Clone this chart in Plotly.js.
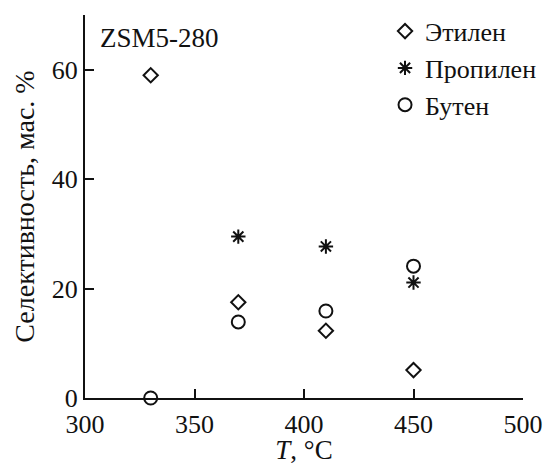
<!DOCTYPE html>
<html>
<head>
<meta charset="utf-8">
<script src="https://cdn.plot.ly/plotly-3.0.1.min.js"></script>
<style>html,body{margin:0;padding:0;background:#fff;}#chart{width:545px;height:465px;}</style>
</head>
<body>
<div id="chart"></div>
<script>
const temperature = [330, 370, 410, 450];
const ethylene = [59.0, 17.5, 12.3, 5.1];
const propylene = [null, 29.5, 27.7, 21.1];
const butene = [0, 13.9, 15.9, 24.1];
const seriesNames = ["Этилен", "Пропилен", "Бутен"];
const xTicks = [300, 350, 400, 450, 500];
const yTicks = [0, 20, 40, 60];

const FONT = "Liberation Serif";
const mk = (sym, size) => ({symbol: sym, size: size, color: "#111", line: {color: "#111", width: 2}});

const traces = [
  {x: temperature, y: ethylene, name: seriesNames[0], type: "scatter", mode: "markers", marker: mk("diamond-open", 11), cliponaxis: false},
  {x: temperature, y: propylene, name: seriesNames[1], type: "scatter", mode: "markers", marker: mk("asterisk-open", 12), cliponaxis: false},
  {x: temperature, y: butene, name: seriesNames[2], type: "scatter", mode: "markers", marker: mk("circle-open", 13), cliponaxis: false}
];

const layout = {
  width: 545, height: 465,
  margin: {l: 85, r: 22, t: 15, b: 67, autoexpand: false},
  paper_bgcolor: "#fff", plot_bgcolor: "#fff",
  font: {family: FONT, size: 25, color: "#111"},
  showlegend: true,
  legend: {x: 0.685, y: 1.019, xanchor: "left", yanchor: "top", bgcolor: "rgba(0,0,0,0)", font: {family: FONT, size: 26, color: "#111"}},
  xaxis: {
    range: [300, 500], tickvals: xTicks, ticktext: xTicks.map(String), automargin: false,
    showgrid: false, zeroline: false, showline: true, linecolor: "#111", linewidth: 2,
    ticks: "inside", ticklen: 9, tickwidth: 2, tickcolor: "#111", ticklabelstandoff: 2,
    tickfont: {family: FONT, size: 26, color: "#111"},
    title: {text: "<i>T</i>, °C", font: {family: FONT, size: 27, color: "#111"}, standoff: 3}
  },
  yaxis: {
    range: [0, 70], tickvals: yTicks, ticktext: yTicks.map(String), automargin: false,
    showgrid: false, zeroline: false, showline: true, linecolor: "#111", linewidth: 2,
    ticks: "inside", ticklen: 9, tickwidth: 2, tickcolor: "#111",
    tickfont: {family: FONT, size: 26, color: "#111"},
    title: {text: "Селективность, мас. %", font: {family: FONT, size: 28, color: "#111"}, standoff: 9}
  },
  annotations: [
    {text: "ZSM5-280", xref: "paper", yref: "paper", x: 0.029, y: 0.94, xanchor: "left", yanchor: "middle", showarrow: false, font: {family: FONT, size: 27, color: "#111"}}
  ]
};

Plotly.newPlot("chart", traces, layout, {displayModeBar: false, staticPlot: true});
</script>
</body>
</html>
